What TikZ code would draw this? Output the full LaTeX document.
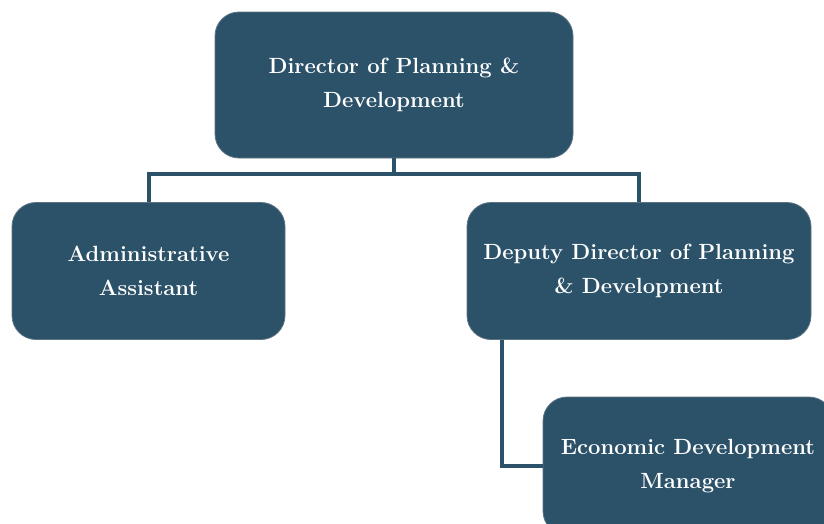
\documentclass[tikz,border=0pt]{standalone}
\usepackage{xcolor}
\usepackage{tikz}
\usetikzlibrary{positioning,calc}
\definecolor{slate}{HTML}{2C5269}
\definecolor{slateedge}{HTML}{5A7385}
\tikzset{
  post/.style={rectangle, rounded corners=24pt, draw=slateedge, line width=0.8pt, fill=slate, text=white, align=center, font=\fontsize{22}{34}\selectfont\bfseries, minimum height=137pt},
  link/.style={draw=slate, line width=4pt}
}
\begin{document}
\begin{tikzpicture}[x=1pt, y=-1pt]
  \useasboundingbox (0,0) rectangle (824,523);
  \clip (0,0) rectangle (824,523);
  \node[post, minimum width=358pt, minimum height=146pt] (director) at (394,85) {Director of Planning \&\\Development};
  \node[post, minimum width=273pt] (admin) at (148.5,271) {Administrative\\Assistant};
  \node[post, minimum width=344pt] (depdir) at (639,271) {Deputy Director of Planning\\\& Development};
  \node[post, minimum width=290pt, minimum height=138pt] (econ) at (688,466) {Economic Development\\Manager};

  \draw[link] (director.south) -- ++(0,16) -| (admin.north);
  \draw[link] (director.south) -- ++(0,16) -| (depdir.north);
  \draw[link] (depdir.south west) ++(35,0) |- (econ.west);
\end{tikzpicture}
\end{document}
